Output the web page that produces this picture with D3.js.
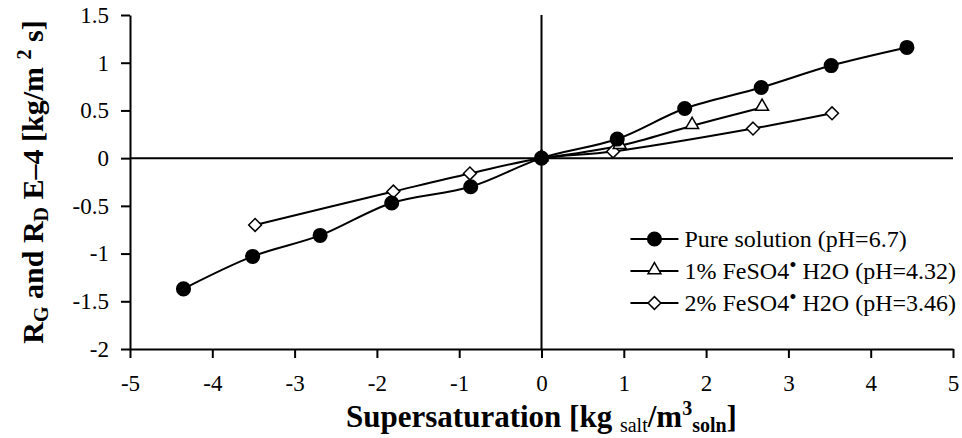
<!DOCTYPE html>
<html lang="en">
<head>
  <meta charset="UTF-8">
  <title>Growth and dissolution rates</title>
  <script src="https://d3js.org/d3.v7.min.js"></script>
  <style>
    body { margin: 0; background: #fff; }
    svg text { font-family: "Liberation Serif", "Times New Roman", Times, serif; fill: #000; }
  </style>
</head>
<body>
  <div id="chart"></div>
  <script type="text/javascript">
    // supersaturation (x) and rate (y) for each series
    var pureX = [-4.35, -3.51, -2.69, -1.82, -0.86, 0, 0.92, 1.74, 2.67, 3.52, 4.44];
    var pureY = [-1.37, -1.03, -0.81, -0.47, -0.30, 0, 0.20, 0.52, 0.74, 0.97, 1.16];
    var fe1X = [0, 0.95, 1.83, 2.68];
    var fe1Y = [0, 0.13, 0.34, 0.53];
    var fe2X = [-3.48, -1.80, -0.87, 0, 0.87, 2.57, 3.53];
    var fe2Y = [-0.70, -0.35, -0.16, 0, 0.07, 0.31, 0.47];
    var xTicks = [-5, -4, -3, -2, -1, 0, 1, 2, 3, 4, 5];
    var yTicks = [-2, -1.5, -1, -0.5, 0, 0.5, 1, 1.5];
    var seriesNames = ["Pure solution (pH=6.7)", "1% FeSO4", "2% FeSO4"];
    var seriesPH = ["", " H2O (pH=4.32)", " H2O (pH=3.46)"];

    var serif = "Liberation Serif, Times New Roman, serif";
    var width = 962, height = 438;
    var svg = d3.select("#chart").append("svg")
      .attr("width", width)
      .attr("height", height)
      .attr("font-family", serif);

    var x = d3.scaleLinear().domain([-5, 5]).range([130, 953]);
    var y = d3.scaleLinear().domain([-2, 1.5]).range([349, 15]);

    function styleAxis(g) {
      g.attr("font-family", serif).attr("font-size", 23);
      g.select(".domain").attr("stroke-width", 2);
      g.selectAll(".tick line").attr("stroke-width", 2);
    }

    // axes on the left and bottom
    svg.append("g")
      .attr("transform", "translate(0,349)")
      .call(d3.axisBottom(x).tickValues(xTicks).tickSize(9).tickSizeOuter(0).tickPadding(17)
        .tickFormat(function (d) { return String(d); }))
      .call(styleAxis);

    svg.append("g")
      .attr("transform", "translate(130,0)")
      .call(d3.axisLeft(y).tickValues(yTicks).tickSize(9).tickSizeOuter(0).tickPadding(12)
        .tickFormat(function (d) { return String(d); }))
      .call(styleAxis);

    // the lines through the origin
    svg.append("line")
      .attr("x1", x(0)).attr("x2", x(0))
      .attr("y1", y(1.5)).attr("y2", y(-2))
      .attr("stroke", "#000").attr("stroke-width", 2);
    svg.append("line")
      .attr("x1", x(-5)).attr("x2", x(5))
      .attr("y1", y(0)).attr("y2", y(0))
      .attr("stroke", "#000").attr("stroke-width", 2);

    function zipPts(xs, ys) {
      return xs.map(function (v, i) { return [v, ys[i]]; });
    }

    var series = [
      { pts: zipPts(pureX, pureY), shape: "circle" },
      { pts: zipPts(fe1X, fe1Y), shape: "triangle" },
      { pts: zipPts(fe2X, fe2Y), shape: "diamond" }
    ];

    var line = d3.line()
      .x(function (d) { return x(d[0]); })
      .y(function (d) { return y(d[1]); })
      .curve(d3.curveCatmullRom.alpha(0.5));

    // square diamond (equal width and height), not d3's narrow one
    var squareDiamond = {
      draw: function (ctx, size) {
        var r = Math.sqrt(size / 2);
        ctx.moveTo(0, -r);
        ctx.lineTo(r, 0);
        ctx.lineTo(0, r);
        ctx.lineTo(-r, 0);
        ctx.closePath();
      }
    };

    var symbols = {
      circle: d3.symbol().type(d3.symbolCircle).size(145),
      triangle: d3.symbol().type(d3.symbolTriangle).size(72),
      diamond: d3.symbol().type(squareDiamond).size(82)
    };

    function drawMarker(g, shape, cx, cy) {
      g.append("path")
        .attr("d", symbols[shape]())
        .attr("transform", "translate(" + cx + "," + (shape === "triangle" ? cy - 1 : cy) + ")")
        .attr("fill", shape === "circle" ? "#000" : "#fff")
        .attr("stroke", "#000")
        .attr("stroke-width", 1.5);
    }

    // draw in reverse so the filled circles sit on top
    series.slice().reverse().forEach(function (s) {
      svg.append("path")
        .attr("d", line(s.pts))
        .attr("fill", "none")
        .attr("stroke", "#000")
        .attr("stroke-width", 2);
    });
    series.slice().reverse().forEach(function (s) {
      var g = svg.append("g");
      s.pts.forEach(function (p) { drawMarker(g, s.shape, x(p[0]), y(p[1])); });
    });

    // legend: texts are left aligned, the longest one ends near the right edge
    var legY = 239, legStep = 32, legRight = 956;
    var legend = svg.append("g");
    var texts = [];
    series.forEach(function (s, i) {
      var ly = legY + i * legStep;
      var t = legend.append("text")
        .attr("x", 0)
        .attr("y", ly + 8)
        .attr("font-size", 24);
      t.append("tspan").text(seriesNames[i]);
      if (seriesPH[i]) {
        t.append("tspan").attr("dy", -7).attr("font-size", 21).text("\u2022");
        t.append("tspan").attr("dy", 7).text(seriesPH[i]);
      }
      texts.push(t);
    });
    var longest = d3.max(texts, function (t) { return t.node().getComputedTextLength(); });
    var legX = legRight - longest;
    texts.forEach(function (t) { t.attr("x", legX); });
    series.forEach(function (s, i) {
      var ly = legY + i * legStep;
      legend.append("line")
        .attr("x1", legX - 54).attr("x2", legX - 6)
        .attr("y1", ly).attr("y2", ly)
        .attr("stroke", "#000").attr("stroke-width", 2);
      drawMarker(legend, s.shape, legX - 30, ly);
    });

    // axis titles
    var xt = svg.append("text")
      .attr("x", x(0))
      .attr("y", 427)
      .attr("text-anchor", "middle")
      .attr("font-size", 31)
      .attr("font-weight", "bold");
    xt.append("tspan").text("Supersaturation [kg ");
    xt.append("tspan").attr("dy", 5).attr("font-size", 20).attr("font-weight", "normal").text("salt");
    xt.append("tspan").attr("dy", -5).text("/m");
    xt.append("tspan").attr("dy", -12).attr("font-size", 20).text("3");
    xt.append("tspan").attr("dy", 17).attr("font-size", 20).text("soln");
    xt.append("tspan").attr("dy", -5).text("]");

    var yt = svg.append("text")
      .attr("transform", "translate(43,182) rotate(-90)")
      .attr("text-anchor", "middle")
      .attr("font-size", 30)
      .attr("font-weight", "bold");
    yt.append("tspan").text("R");
    yt.append("tspan").attr("dy", 5).attr("font-size", 20).text("G");
    yt.append("tspan").attr("dy", -5).text(" and R");
    yt.append("tspan").attr("dy", 5).attr("font-size", 20).text("D");
    yt.append("tspan").attr("dy", -5).text(" E\u20134 [kg/m ");
    yt.append("tspan").attr("dy", -12).attr("font-size", 20).text("2");
    yt.append("tspan").attr("dy", 12).text(" s]");
  </script>
</body>
</html>
